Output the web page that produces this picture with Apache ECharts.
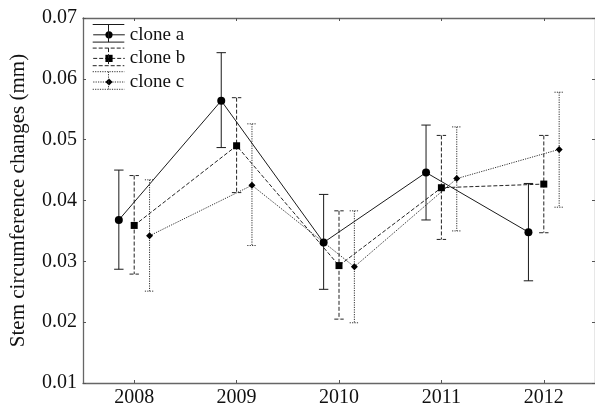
<!DOCTYPE html>
<html><head><meta charset="utf-8">
<script src="https://cdn.jsdelivr.net/npm/echarts@6/dist/echarts.min.js"></script>
<style>html,body{margin:0;padding:0;background:#fff}#c{width:595px;height:414px}</style>
</head><body><div id="c"></div>
<script>
const years = ['2008', '2009', '2010', '2011', '2012'];
const yTicks = [0.01, 0.02, 0.03, 0.04, 0.05, 0.06, 0.07];
const seriesNames = ['clone a', 'clone b', 'clone c'];
const cloneA     = [0.0368, 0.0564, 0.0331, 0.0446, 0.0348];
const cloneAHigh = [0.0450, 0.0643, 0.0410, 0.0524, 0.0428];
const cloneALow  = [0.0287, 0.0487, 0.0254, 0.0368, 0.0268];
const cloneB     = [0.0359, 0.0490, 0.0293, 0.0421, 0.0427];
const cloneBHigh = [0.0441, 0.0569, 0.0383, 0.0507, 0.0507];
const cloneBLow  = [0.0279, 0.0413, 0.0205, 0.0336, 0.0347];
const cloneC     = [0.0342, 0.0425, 0.0291, 0.0436, 0.0484];
const cloneCHigh = [0.0434, 0.0526, 0.0383, 0.0521, 0.0578];
const cloneCLow  = [0.0251, 0.0326, 0.0199, 0.0350, 0.0389];

const FONT = "'Liberation Serif', 'DejaVu Serif', serif";
const means = [cloneA, cloneB, cloneC];
const highs = [cloneAHigh, cloneBHigh, cloneCHigh];
const lows = [cloneALow, cloneBLow, cloneCLow];
const offsets = [-0.15, 0, 0.15];
const colors = ['#1a1a1a', '#222', '#333'];
const dashes = [null, [4, 2], [1.2, 1.2]];
const symbols = ['circle', 'rect', 'diamond'];
const symSizes = [8, 7, 7];

const chart = echarts.init(document.getElementById('c'), null, {renderer: 'canvas'});
const series = [];
for (let s = 0; s < 3; s++) {
  const errData = years.map((y, i) => [i + 0.5 + offsets[s], lows[s][i], highs[s][i]]);
  series.push({
    type: 'custom', name: 'err' + s, xAxisIndex: 2, yAxisIndex: 0, z: 2,
    encode: {x: 0, y: [1, 2]},
    data: errData,
    renderItem: (function (s) { return function (params, api) {
      const x = api.value(0);
      const pHi = api.coord([x, api.value(2)]);
      const pLo = api.coord([x, api.value(1)]);
      const w = 4.7;
      const st = {stroke: colors[s], lineWidth: 1, lineDash: dashes[s] || null, fill: null};
      return {type: 'group', children: [
        {type: 'line', shape: {x1: pHi[0], y1: pHi[1], x2: pLo[0], y2: pLo[1]}, style: st},
        {type: 'line', shape: {x1: pHi[0] - w, y1: pHi[1], x2: pHi[0] + w, y2: pHi[1]}, style: st},
        {type: 'line', shape: {x1: pLo[0] - w, y1: pLo[1], x2: pLo[0] + w, y2: pLo[1]}, style: st}
      ]};
    }; })(s)
  });
  series.push({
    type: 'line', name: seriesNames[s], xAxisIndex: 2, yAxisIndex: 0, z: 3,
    data: years.map((y, i) => [i + 0.5 + offsets[s], means[s][i]]),
    symbol: symbols[s], symbolSize: symSizes[s], showSymbol: true,
    lineStyle: {color: colors[s], width: 1, type: dashes[s] || 'solid'},
    itemStyle: {color: '#000', borderWidth: 0},
    emphasis: {disabled: true}
  });
}

// legend error-bar style decorations
const legTop = 23.8, legGap = 23.6, legLeft = 92.7, legW = 31.6, capH = 8.8;
const graphics = [];
for (let s = 0; s < 3; s++) {
  const cy = legTop + 9.5 + legGap * s;
  const st = {stroke: colors[s], lineWidth: 1, lineDash: dashes[s] || null};
  graphics.push({type: 'line', shape: {x1: legLeft, y1: cy - capH, x2: legLeft + legW, y2: cy - capH}, style: st, z: 100});
  graphics.push({type: 'line', shape: {x1: legLeft, y1: cy + capH, x2: legLeft + legW, y2: cy + capH}, style: st, z: 100});
  graphics.push({type: 'line', shape: {x1: legLeft + legW / 2, y1: cy - capH, x2: legLeft + legW / 2, y2: cy + capH}, style: st, z: 100});
}

const axisLine = {show: true, lineStyle: {color: '#666', width: 1.3}};
const tick = {show: true, inside: true, length: 3, lineStyle: {color: '#555', width: 1}};
chart.setOption({
  animation: false,
  grid: {left: 82.5, right: -2.5, top: 18, bottom: 31},
  legend: {
    data: seriesNames, orient: 'vertical', left: legLeft, top: legTop + 1.5, padding: 0,
    itemWidth: legW, itemHeight: 9, itemGap: 4.6,
    lineStyle: {width: 1},
    textStyle: {fontFamily: FONT, fontSize: 19, color: '#111', lineHeight: 19},
    selectedMode: false
  },
  graphic: graphics,
  xAxis: [
    {type: 'category', data: years, position: 'bottom', boundaryGap: true,
     axisLine: axisLine, axisTick: Object.assign({alignWithLabel: true}, tick),
     axisLabel: {fontFamily: FONT, fontSize: 20, color: '#111', margin: 5},
     splitLine: {show: false}},
    {type: 'category', data: years, position: 'top', boundaryGap: true,
     axisLine: axisLine, axisTick: Object.assign({alignWithLabel: true}, tick),
     axisLabel: {show: false}, splitLine: {show: false}},
    {type: 'value', min: 0, max: 5, show: false}
  ],
  yAxis: [
    {type: 'value', min: yTicks[0], max: yTicks[yTicks.length - 1], interval: 0.01, position: 'left',
     name: 'Stem circumference changes (mm)', nameLocation: 'middle', nameGap: 54,
     nameTextStyle: {fontFamily: FONT, fontSize: 21, color: '#111'},
     axisLine: axisLine, axisTick: tick,
     axisLabel: {fontFamily: FONT, fontSize: 20, color: '#111', margin: 6, formatter: v => v.toFixed(2)},
     splitLine: {show: false}},
    {type: 'value', min: yTicks[0], max: yTicks[yTicks.length - 1], interval: 0.01, position: 'right',
     axisLine: axisLine, axisTick: tick, axisLabel: {show: false}, splitLine: {show: false}}
  ],
  series: series
});
</script></body></html>
